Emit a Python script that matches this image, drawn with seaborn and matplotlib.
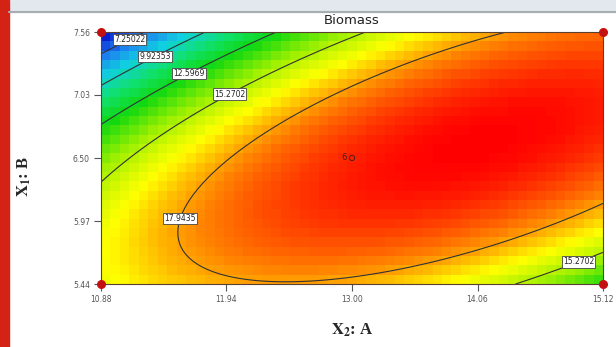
import numpy as np
import pandas as pd
import seaborn as sns
import matplotlib.pyplot as plt
import matplotlib.patches as mpatches
from matplotlib.colors import LinearSegmentedColormap

# axis ranges (actual units)
a_range = [10.88, 15.12]
b_range = [5.44, 7.56]
x_ticks = [10.88, 11.94, 13.00, 14.06, 15.12]
y_ticks = [5.44, 5.97, 6.50, 7.03, 7.56]
levels = [7.25022, 9.92353, 12.5969, 15.2702, 17.9435]

# quadratic model in coded units, estimated from the contour positions
# terms: intercept, A, B, AB, A^2, B^2
coef = [19.896, 2.556, -1.359, 4.221, -3.006, -3.624]

design_a = [10.88, 15.12, 10.88, 15.12]
design_b = [7.56, 7.56, 5.44, 5.44]
center_a, center_b, center_n = 13.00, 6.50, 6

# where the contour labels sit
lab_pos = [(11.12, 7.50), (11.35, 7.33), (11.62, 7.22), (11.96, 7.05), (11.50, 6.01), (14.90, 5.66)]


def model(a, b):
    uu = (a - 13.00) / 2.12
    vv = (b - 6.50) / 1.06
    return (coef[0] + coef[1] * uu + coef[2] * vv + coef[3] * uu * vv
            + coef[4] * uu**2 + coef[5] * vv**2)


ncols, nrows = 53, 27
ac = a_range[0] + (np.arange(ncols) + 0.5) / ncols * (a_range[1] - a_range[0])
bc = b_range[1] - (np.arange(nrows) + 0.5) / nrows * (b_range[1] - b_range[0])
AA, BB = np.meshgrid(ac, bc)
grid = pd.DataFrame(model(AA, BB), index=np.round(bc, 3), columns=np.round(ac, 3))


def to_col(a):
    return (np.asarray(a) - a_range[0]) / (a_range[1] - a_range[0]) * ncols


def to_row(b):
    return (b_range[1] - np.asarray(b)) / (b_range[1] - b_range[0]) * nrows


cmap = LinearSegmentedColormap.from_list(
    'dx', [(0.0, '#0a1ed0'), (0.12, '#1e80f0'), (0.24, '#10d0e0'), (0.36, '#10e070'),
           (0.48, '#10d810'), (0.62, '#a0f000'), (0.74, '#ffff00'), (0.86, '#ff8000'), (1.0, '#ff0000')])

sns.set_style('white')
plt.rcParams['mathtext.fontset'] = 'stix'
fig = plt.figure(figsize=(6.16, 3.47), dpi=100)
ax = fig.add_axes([101 / 616, 1 - 284 / 347, 502 / 616, 252 / 347])
sns.heatmap(grid, cmap=cmap, cbar=False, ax=ax, xticklabels=False, yticklabels=False)

fa = np.linspace(a_range[0], a_range[1], 300)
fb = np.linspace(b_range[0], b_range[1], 200)
FA, FB = np.meshgrid(fa, fb)
cs = ax.contour(to_col(FA), to_row(FB), model(FA, FB), levels=levels, colors='#333333', linewidths=0.8)
labs = ax.clabel(cs, fmt=lambda x: f'{x:g}', fontsize=5.5, inline=False, colors='#222',
                 manual=[(to_col(a), to_row(b)) for a, b in lab_pos])
for t in labs:
    t.set_rotation(0)
    t.set_bbox(dict(boxstyle='square,pad=0.15', fc='white', ec='#444', lw=0.6))

ax.scatter(to_col(design_a), to_row(design_b), s=30, color='#c41010', zorder=5, clip_on=False)
ax.scatter([to_col(center_a)], [to_row(center_b)], s=14, facecolor='none', edgecolor='#402020', lw=0.7, zorder=5)
ax.text(to_col(center_a) - 0.6, to_row(center_b), str(center_n), fontsize=6, color='#402020', ha='right', va='center')

ax.set_xticks(to_col(x_ticks))
ax.set_xticklabels([f'{t:.2f}' for t in x_ticks])
ax.set_yticks(to_row(y_ticks))
ax.set_yticklabels([f'{t:.2f}' for t in y_ticks], rotation=0)
ax.tick_params(bottom=True, left=True, length=5, width=0.8, color='#555', labelsize=5.5, labelcolor='#555', pad=3)
for s in ax.spines.values():
    s.set_visible(True)
    s.set_color('#5a4030')
    s.set_linewidth(0.8)

fig.text(352 / 616, 1 - 20 / 347, 'Biomass', ha='center', va='center', fontsize=9.5, color='#222')
fig.text(352 / 616, 1 - 330 / 347, r'$\mathbf{X_2}$: A', ha='center', va='center', fontsize=12,
         family='Liberation Serif', weight='bold')
fig.text(24 / 616, 1 - 176 / 347, r'$\mathbf{X_1}$: B', ha='center', va='center', fontsize=12,
         family='Liberation Serif', weight='bold', rotation=90)

fig.patches.append(mpatches.Rectangle((9 / 616, 1 - 12 / 347), 1, 12 / 347, transform=fig.transFigure,
                                      color='#e3e8ee', zorder=0))
fig.add_artist(plt.Line2D([9 / 616, 1], [1 - 12 / 347] * 2, transform=fig.transFigure, color='#a8adb2', lw=1.5))
fig.patches.append(mpatches.Rectangle((0, 0), 9 / 616, 1, transform=fig.transFigure, color='#d42214', zorder=1))

fig.savefig('out.png', dpi=100)
